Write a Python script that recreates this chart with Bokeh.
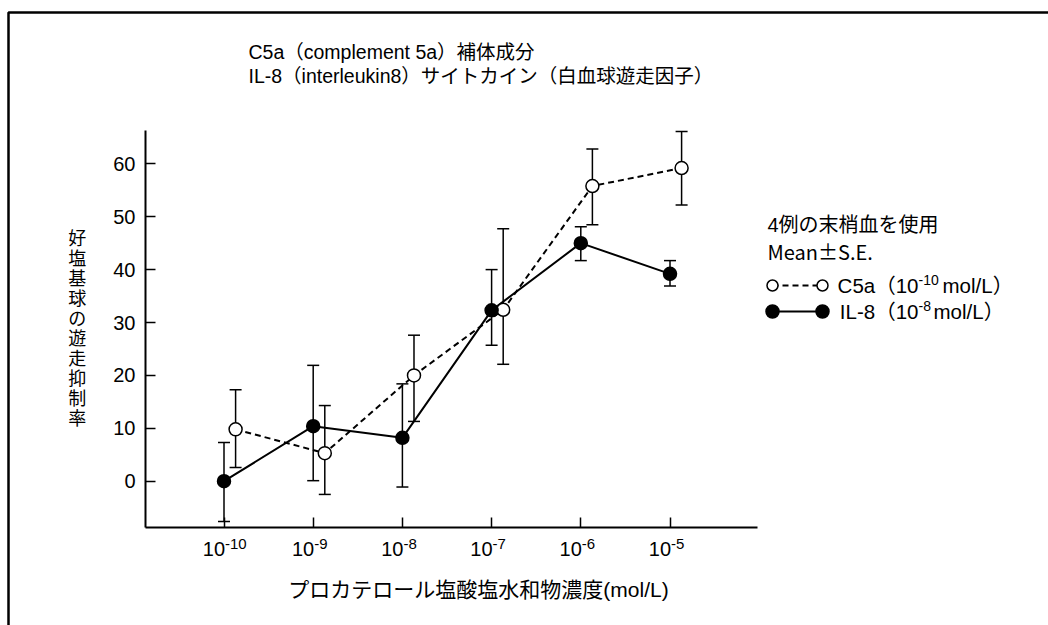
from bokeh.plotting import figure
from bokeh.models import Range1d, ColumnDataSource, Whisker, TeeHead, Label, FixedTicker
from bokeh.embed import file_html
from bokeh.resources import INLINE

W, H = 1048, 625

# Concentration (log10 mol/L) and tick texts
log_conc = [-10, -9, -8, -7, -6, -5]
tick_base = "10"
tick_exp = ["-10", "-9", "-8", "-7", "-6", "-5"]
y_ticks = [0, 10, 20, 30, 40, 50, 60]

# IL-8 induced migration, inhibition rate (%) mean and error-bar ends
il8_mean = [0.0, 10.4, 8.2, 32.3, 45.0, 39.2]
il8_hi = [7.3, 21.9, 18.4, 40.0, 48.1, 41.7]
il8_lo = [-7.6, 0.1, -1.1, 25.7, 41.7, 36.9]

# C5a induced migration, inhibition rate (%) mean and error-bar ends
c5a_mean = [9.8, 5.3, 20.0, 32.4, 55.8, 59.2]
c5a_hi = [17.3, 14.3, 27.6, 47.7, 62.8, 66.1]
c5a_lo = [2.6, -2.5, 11.3, 22.1, 48.5, 52.2]

title_lines = ["C5a（complement 5a）補体成分",
               "IL-8（interleukin8）サイトカイン（白血球遊走因子）"]
y_title = "好塩基球の遊走抑制率"
x_title = "プロカテロール塩酸塩水和物濃度(mol/L)"
legend_head = ["4例の末梢血を使用", "Mean±S.E."]
legend_names = ["C5a（10", "IL-8（10"]
legend_exp = ["-10", "-8"]
legend_unit = " mol/L）"

FONT = "'Liberation Sans', 'Noto Sans CJK JP'"
CJK_FONT = "'Noto Sans CJK JP'"
C5A_SHIFT = 0.13  # open symbols are drawn slightly right of the tick

# canvas geometry: the data frame spans the whole canvas
X_TICK0_PX, X_PX_PER_DEC = 223.5, 89.2
Y_ZERO_PX, Y_PX_PER_UNIT = 480.7, 5.29


def dx(px):
    return log_conc[0] + (px - X_TICK0_PX) / X_PX_PER_DEC


def dy(py):
    return (Y_ZERO_PX - py) / Y_PX_PER_UNIT


p = figure(width=W, height=H, output_backend="svg", toolbar_location=None,
           x_range=Range1d(dx(0), dx(W)), y_range=Range1d(dy(H), dy(0)),
           min_border=0)
p.outline_line_color = None
p.grid.visible = False
p.background_fill_color = "white"
p.border_fill_color = "white"

# axes pinned inside the canvas-wide frame
for ax in (p.xaxis[0], p.yaxis[0]):
    ax.axis_line_width = 2
    ax.axis_line_color = "black"
    ax.major_tick_line_width = 1.5
    ax.major_tick_line_color = "black"
    ax.major_tick_in = 10
    ax.major_tick_out = 0
    ax.minor_tick_line_color = None
    ax.major_label_text_font = FONT
    ax.major_label_text_color = "black"

xa = p.xaxis[0]
xa.fixed_location = dy(527)
xa.bounds = (dx(145), dx(757))
xa.ticker = FixedTicker(ticks=log_conc)
xa.major_label_text_color = None
xa.major_label_text_font_size = "1px"

ya = p.yaxis[0]
ya.fixed_location = dx(145)
ya.bounds = (dy(527), dy(130))
ya.ticker = FixedTicker(ticks=y_ticks)
ya.major_label_text_font_size = "20px"
ya.major_label_standoff = 10
ya.axis_label = "\n".join(y_title)
ya.axis_label_orientation = "horizontal"
ya.axis_label_text_font = FONT
ya.axis_label_text_font_style = "normal"
ya.axis_label_text_color = "black"
ya.axis_label_text_font_size = "18px"
ya.axis_label_text_line_height = 1.0
ya.axis_label_standoff = 24

# outer frame of the figure panel
p.line(x=[dx(8), dx(8), dx(W + 5)], y=[dy(H + 5), dy(12), dy(12)],
       line_width=2.5, line_color="black")

c5a_x = [v + C5A_SHIFT for v in log_conc]
src_il8 = ColumnDataSource(dict(x=log_conc, y=il8_mean, hi=il8_hi, lo=il8_lo))
src_c5a = ColumnDataSource(dict(x=c5a_x, y=c5a_mean, hi=c5a_hi, lo=c5a_lo))

for src in (src_il8, src_c5a):
    w = Whisker(source=src, base="x", upper="hi", lower="lo", dimension="height",
                line_width=1.5, line_color="black", level="underlay",
                upper_head=TeeHead(size=12, line_width=1.5, line_color="black"),
                lower_head=TeeHead(size=12, line_width=1.5, line_color="black"))
    p.add_layout(w)

p.line("x", "y", source=src_c5a, line_width=2, line_color="black", line_dash="6 4")
p.line("x", "y", source=src_il8, line_width=2, line_color="black")
p.scatter("x", "y", source=src_c5a, size=13, marker="circle",
          fill_color="white", line_color="black", line_width=1.5)
p.scatter("x", "y", source=src_il8, size=13, marker="circle",
          fill_color="black", line_color="black", line_width=1.5)

# x tick labels: base with superscript exponent
for lc, ex in zip(log_conc, tick_exp):
    p.add_layout(Label(x=lc, y=dy(548.5), text=tick_base, text_align="right",
                       text_baseline="middle", x_offset=1, text_font=FONT,
                       text_font_size="20px", text_color="black"))
    p.add_layout(Label(x=lc, y=dy(543), text=ex, text_align="left",
                       text_baseline="middle", x_offset=1, text_font=FONT,
                       text_font_size="15px", text_color="black"))

p.add_layout(Label(x=dx(478), y=dy(589), text=x_title, text_align="center",
                   text_baseline="middle", text_font=FONT, text_font_size="21px",
                   text_color="black"))

for i, t in enumerate(title_lines):
    p.add_layout(Label(x=dx(248), y=dy(51 + 24 * i), text=t, text_align="left",
                       text_baseline="middle", text_font=FONT, text_font_size="19.5px",
                       text_color="black"))

# legend block
head_fonts = [FONT, CJK_FONT]
for i, (t, f) in enumerate(zip(legend_head, head_fonts)):
    p.add_layout(Label(x=dx(767), y=dy(224 + 27 * i), text=t, text_align="left",
                       text_baseline="middle", text_font=f, text_font_size="20px",
                       text_color="black"))

rows_py = [285, 311]
p.line(x=[dx(772), dx(822)], y=[dy(rows_py[0])] * 2, line_width=2,
       line_color="black", line_dash="6 4")
p.scatter(x=[dx(772), dx(822)], y=[dy(rows_py[0])] * 2, size=11, marker="circle",
          fill_color="white", line_color="black", line_width=1.5)
p.line(x=[dx(772), dx(822)], y=[dy(rows_py[1])] * 2, line_width=2, line_color="black")
p.scatter(x=[dx(772), dx(822)], y=[dy(rows_py[1])] * 2, size=13, marker="circle",
          fill_color="black", line_color="black", line_width=1.5)

exp_px = [(918, 942), (918, 933)]
for name, ex, py, (ex_x, unit_x) in zip(legend_names, legend_exp, rows_py, exp_px):
    p.add_layout(Label(x=dx(ex_x), y=dy(py), text=name, text_align="right",
                       text_baseline="middle", text_font=FONT, text_font_size="20.5px",
                       text_color="black"))
    p.add_layout(Label(x=dx(ex_x), y=dy(py - 6), text=ex, text_align="left",
                       text_baseline="middle", text_font=FONT, text_font_size="14px",
                       text_color="black"))
    p.add_layout(Label(x=dx(unit_x), y=dy(py), text=legend_unit, text_align="left",
                       text_baseline="middle", text_font=FONT, text_font_size="20.5px",
                       text_color="black"))

open("out.html", "w").write(file_html(p, INLINE))
